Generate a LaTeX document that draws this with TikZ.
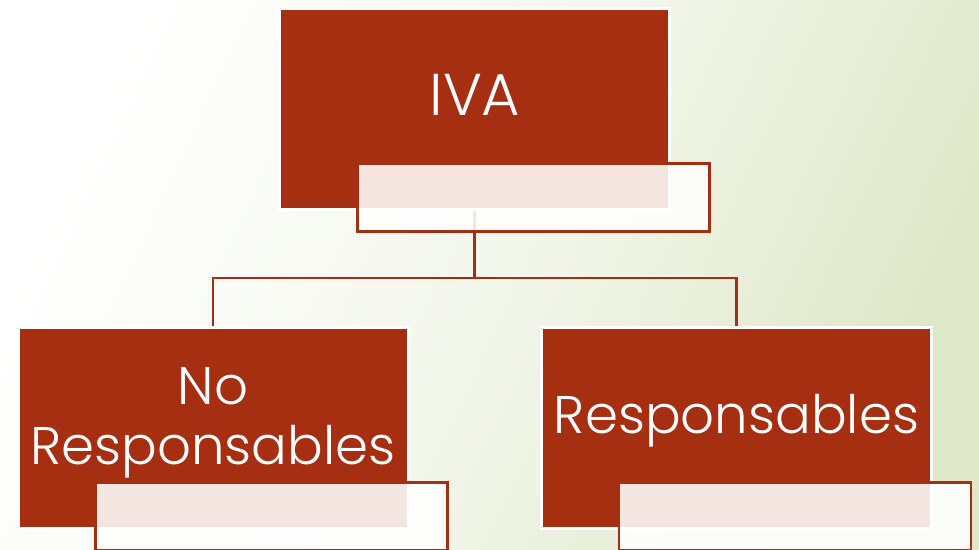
\documentclass[tikz,border=0pt]{standalone}
\usepackage{fontspec}
\setmainfont{Poppins}[UprightFont=* Light]
\definecolor{boxred}{HTML}{A52F10}
\definecolor{bggreen}{HTML}{DFE7C9}
\tikzset{
  mainbox/.style={rectangle, fill=boxred, draw=white, line width=3pt, minimum width=390pt, minimum height=201pt, inner sep=0pt},
  subbox/.style={rectangle, fill=white, fill opacity=0.88, draw=boxred, draw opacity=1, line width=2.2pt, minimum width=352pt, minimum height=68pt, inner sep=0pt},
  lbl/.style={text=white, font=\fontsize{53}{60}\selectfont, align=center, inner sep=0pt},
  conn/.style={draw=boxred, line width=2.2pt}
}
\begin{document}
\begin{tikzpicture}[x=1pt,y=-1pt]
\useasboundingbox (0,0) rectangle (979,549);
\clip (0,0) rectangle (979,549);
\shade[shading=axis, top color=white, bottom color=bggreen, middle color=bggreen!35, shading angle=65] (-1,-1) rectangle (980,550);
% main boxes
\coordinate (bus) at (474.5,278);
\node[mainbox] (top) at (474.5,108.5) {};
\node[mainbox] (left) at (213,427.5) {};
\node[mainbox] (right) at (736.5,427.5) {};
% connectors
\draw[conn] (top.south) -- (bus) -| (left.north);
\draw[conn] (bus) -| (right.north);
% labels
\node[lbl, font=\fontsize{59}{64}\selectfont, anchor=base] (tiva) at (475,115) {IVA};
\node[lbl, anchor=base] (tno) at (213,404) {No};
\node[lbl, anchor=base] (tnoresp) at (213,464) {Responsables};
\node[lbl, anchor=base] (tresp) at (736.5,433) {Responsables};
% sub boxes
\node[subbox] (topsub) at (533.5,197.5) {};
\node[subbox] (leftsub) at (271.5,516.5) {};
\node[subbox] (rightsub) at (795,516.5) {};
\end{tikzpicture}
\end{document}
